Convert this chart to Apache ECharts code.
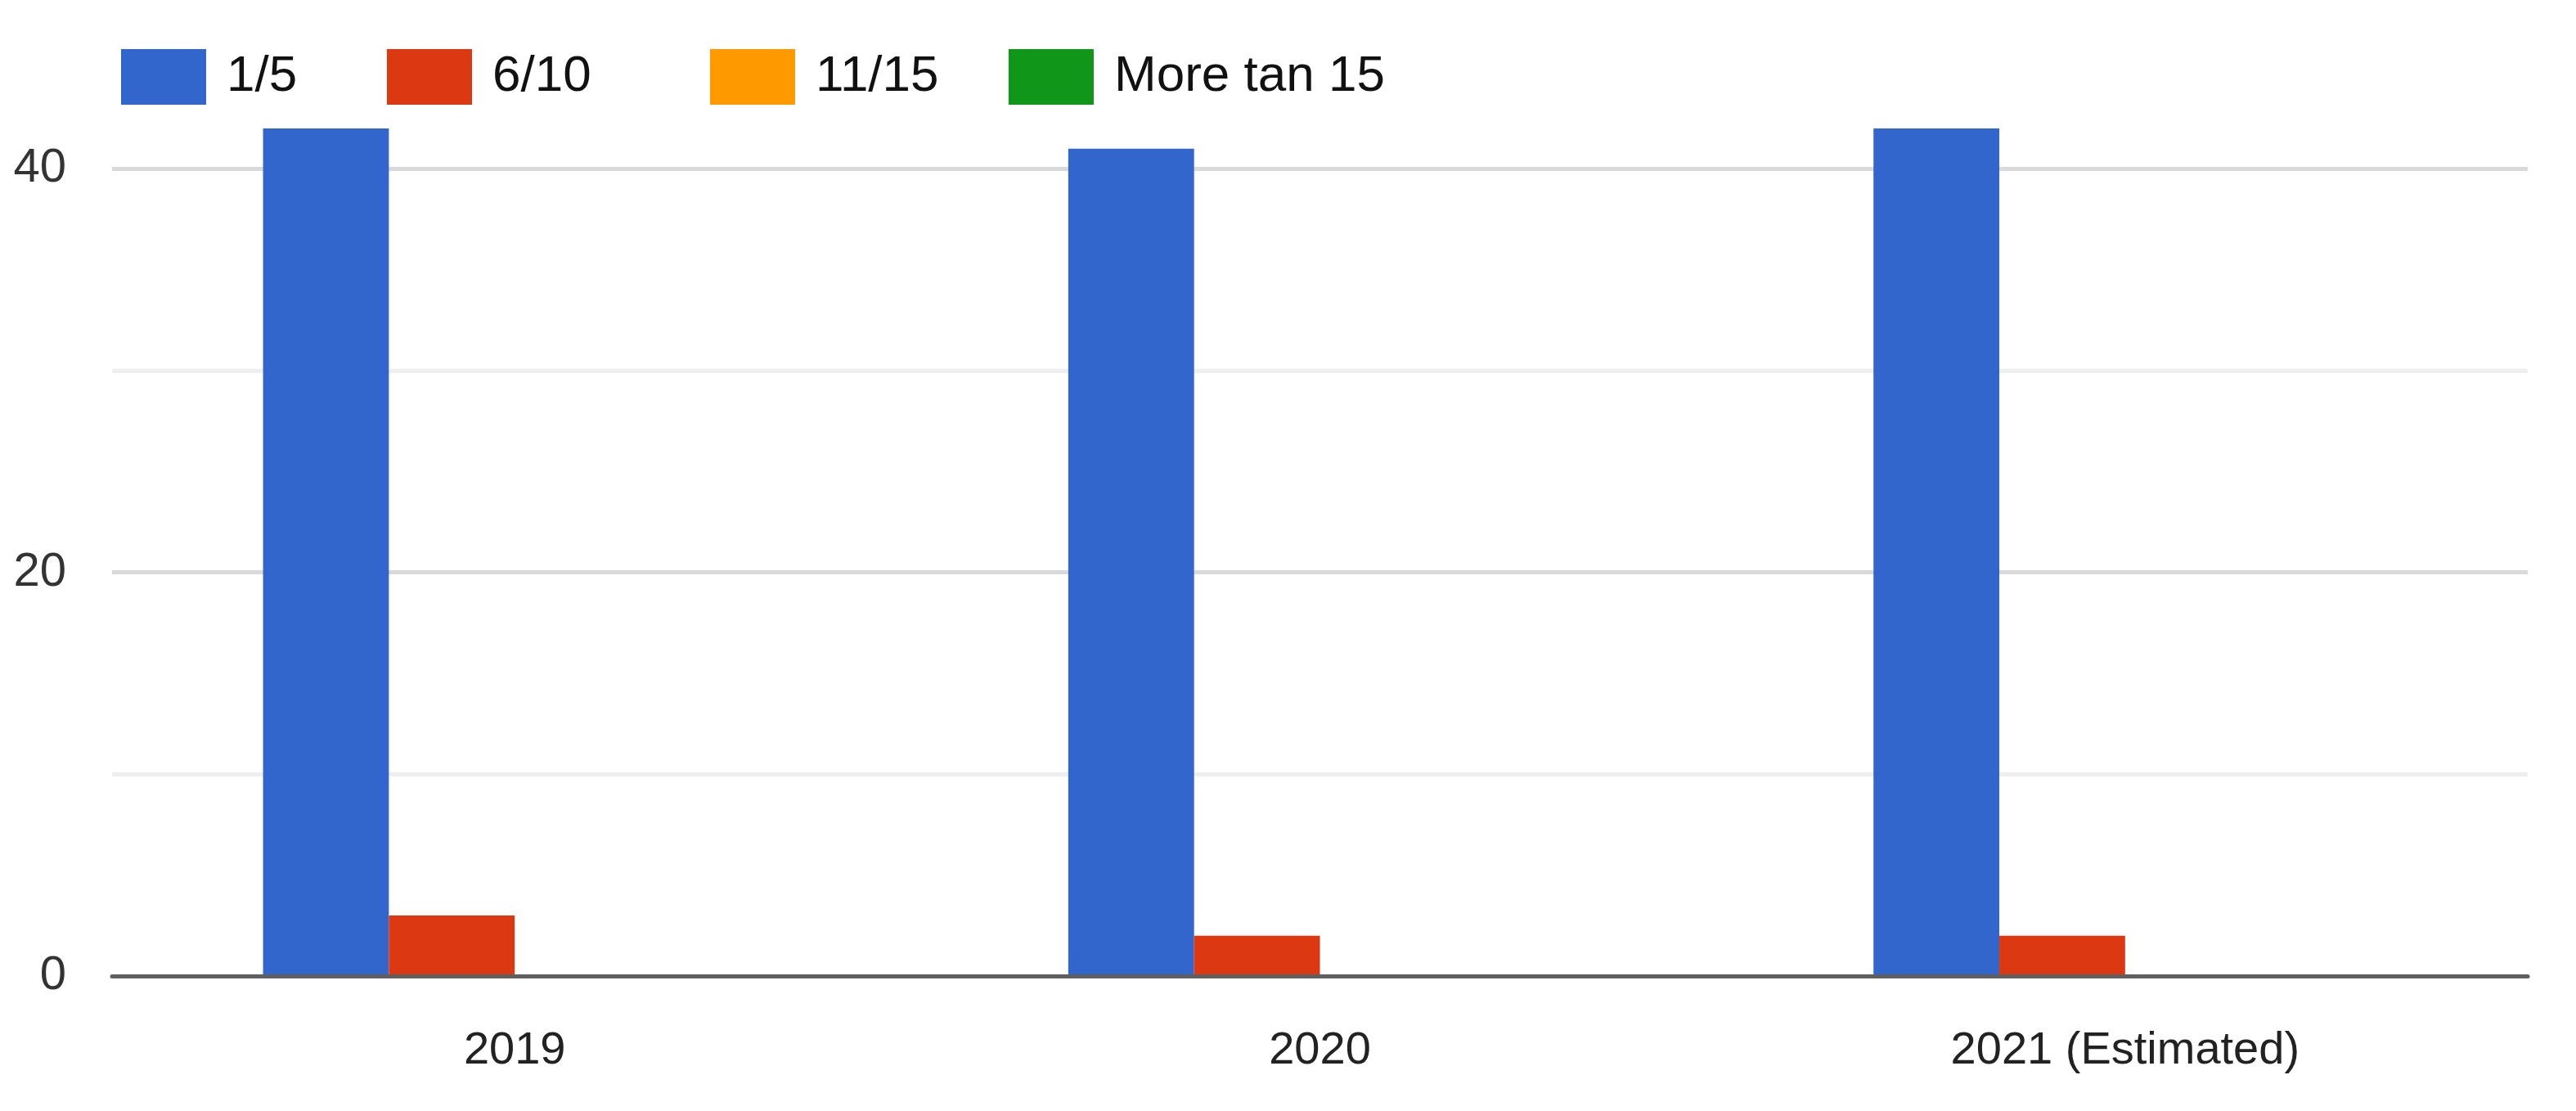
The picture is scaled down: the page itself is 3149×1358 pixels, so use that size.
<!DOCTYPE html>
<html>
<head>
<meta charset="utf-8">
<script src="https://cdn.jsdelivr.net/npm/echarts@6/dist/echarts.min.js"></script>
<style>html,body{margin:0;padding:0;background:#fff}#c{width:3149px;height:1358px}</style>
</head>
<body>
<div id="c"></div>
<script>
const categories = ['2019', '2020', '2021 (Estimated)'];
const seriesNames = ['1/5', '6/10', '11/15', 'More tan 15'];
const s1to5 = [42, 41, 42];
const s6to10 = [3, 2, 2];
const s11to15 = [0, 0, 0];
const sMore15 = [0, 0, 0];
const colors = ['#3366cc', '#dc3912', '#ff9900', '#109618'];

const FONT = "'Liberation Sans', Arial, sans-serif";
const legendLefts = [143, 468, 863, 1228];
const values = [s1to5, s6to10, s11to15, sMore15];

const chart = echarts.init(document.getElementById('c'));
chart.setOption({
  animation: false,
  color: colors,
  legend: seriesNames.map((n, i) => ({
    data: [n], left: legendLefts[i], top: 55, itemWidth: 104, itemHeight: 68,
    icon: 'rect', selectedMode: false,
    textStyle: { fontFamily: FONT, fontSize: 62, color: '#111', padding: [0, 0, 0, 20] }
  })),
  grid: { left: 137, right: 59, top: 157, bottom: 165, containLabel: false },
  xAxis: {
    type: 'category', data: categories, z: 6,
    axisLine: { lineStyle: { color: '#5f5f5f', width: 5 } },
    axisTick: { show: false },
    axisLabel: { fontFamily: FONT, fontSize: 56, color: '#222', margin: 64 }
  },
  yAxis: [{
    type: 'value', min: 0, max: 42, interval: 20, z: 3,
    axisLine: { show: false }, axisTick: { show: false },
    axisLabel: { fontFamily: FONT, fontSize: 58, color: '#333', margin: 56, showMaxLabel: false },
    splitLine: { lineStyle: { color: '#d9d9d9', width: 5 }, showMaxLine: false }
  }, {
    type: 'value', min: 0, max: 42, interval: 10, position: 'left', z: 1,
    axisLine: { show: false }, axisTick: { show: false }, axisLabel: { show: false },
    splitLine: { lineStyle: { color: '#eeeeee', width: 5 }, showMaxLine: false }
  }],
  series: seriesNames.map((n, i) => ({
    name: n, type: 'bar', data: values[i], yAxisIndex: 0,
    barGap: '0%', barCategoryGap: '37.5%', z: 5
  }))
});
</script>
</body>
</html>
